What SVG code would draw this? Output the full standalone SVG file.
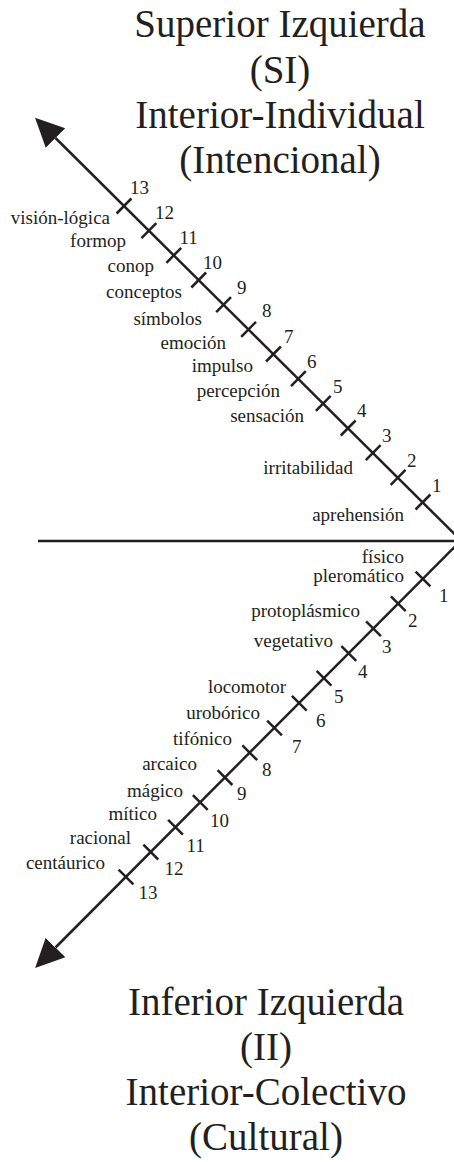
<svg xmlns="http://www.w3.org/2000/svg" xmlns:xlink="http://www.w3.org/1999/xlink" width="454" height="1162" viewBox="0 0 454 1162">
<style>
.ttl{font-family:"Liberation Serif","Times New Roman",serif;font-size:39px;fill:#231f20;text-anchor:middle}
.lbl{font-family:"Liberation Serif","Times New Roman",serif;font-size:19px;fill:#231f20;text-anchor:end}
.num{font-family:"Liberation Serif","Times New Roman",serif;font-size:19px;fill:#231f20;text-anchor:start}
.ax{stroke:#231f20;stroke-width:2.5;fill:none}
.tk{stroke:#231f20;stroke-width:2.5}
</style>
<defs>
<marker id="head" markerUnits="userSpaceOnUse" markerWidth="30" markerHeight="30" viewBox="0 -13 26 26" refX="0" refY="0" orient="auto">
<path d="M0,-12 L25,0 L0,12 Z" fill="#231f20"/>
</marker>
<line id="tu" class="tk" x1="-7.4" y1="7.5" x2="7.4" y2="-7.5"/>
<line id="tl" class="tk" x1="-7.4" y1="-7.4" x2="7.4" y2="7.4"/>
</defs>
<rect width="454" height="1162" fill="#ffffff"/>
<g id="title-top">
<text class="ttl" x="280" y="37">Superior Izquierda</text>
<text class="ttl" x="280" y="83">(SI)</text>
<text class="ttl" x="280" y="128">Interior-Individual</text>
<text class="ttl" x="280" y="173">(Intencional)</text>
</g>
<g id="title-bottom">
<text class="ttl" x="266" y="1015">Inferior Izquierda</text>
<text class="ttl" x="266" y="1060">(II)</text>
<text class="ttl" x="266" y="1105">Interior-Colectivo</text>
<text class="ttl" x="266" y="1150">(Cultural)</text>
</g>
<g id="connectors">
<line class="ax" x1="38" y1="541" x2="454" y2="541"/>
<line class="ax" x1="461" y1="540.5" x2="55.5" y2="138" marker-end="url(#head)"/>
<line class="ax" x1="461" y1="540.5" x2="55.5" y2="947.5" marker-end="url(#head)"/>
</g>
<g id="ticks-upper">
<use xlink:href="#tu" x="423" y="502"/>
<use xlink:href="#tu" x="398.1" y="477.3"/>
<use xlink:href="#tu" x="373.2" y="452.7"/>
<use xlink:href="#tu" x="348.2" y="428"/>
<use xlink:href="#tu" x="323.3" y="403.3"/>
<use xlink:href="#tu" x="298.4" y="378.7"/>
<use xlink:href="#tu" x="273.5" y="354"/>
<use xlink:href="#tu" x="248.6" y="329.3"/>
<use xlink:href="#tu" x="223.6" y="304.6"/>
<use xlink:href="#tu" x="198.7" y="280"/>
<use xlink:href="#tu" x="173.8" y="255.3"/>
<use xlink:href="#tu" x="148.9" y="230.6"/>
<use xlink:href="#tu" x="124" y="206"/>
</g>
<g id="ticks-lower">
<use xlink:href="#tl" x="423" y="579"/>
<use xlink:href="#tl" x="398.3" y="603.8"/>
<use xlink:href="#tl" x="373.5" y="628.7"/>
<use xlink:href="#tl" x="348.8" y="653.5"/>
<use xlink:href="#tl" x="324" y="678.3"/>
<use xlink:href="#tl" x="299.3" y="703.2"/>
<use xlink:href="#tl" x="274.5" y="728"/>
<use xlink:href="#tl" x="249.8" y="752.8"/>
<use xlink:href="#tl" x="225" y="777.6"/>
<use xlink:href="#tl" x="200.3" y="802.5"/>
<use xlink:href="#tl" x="175.5" y="827.3"/>
<use xlink:href="#tl" x="150.8" y="852.1"/>
<use xlink:href="#tl" x="126" y="877"/>
</g>
<g id="labels-upper">
<text class="lbl" x="110" y="224">visión-lógica</text>
<text class="lbl" x="126" y="247">formop</text>
<text class="lbl" x="154" y="272">conop</text>
<text class="lbl" x="182" y="298">conceptos</text>
<text class="lbl" x="202" y="325">símbolos</text>
<text class="lbl" x="226" y="349">emoción</text>
<text class="lbl" x="253" y="372">impulso</text>
<text class="lbl" x="280" y="397">percepción</text>
<text class="lbl" x="304" y="422">sensación</text>
<text class="lbl" x="353" y="474">irritabilidad</text>
<text class="lbl" x="404" y="521">aprehensión</text>
</g>
<g id="numbers-upper">
<text class="num" x="130" y="194">13</text>
<text class="num" x="155" y="219">12</text>
<text class="num" x="179.5" y="244">11</text>
<text class="num" x="203" y="269">10</text>
<text class="num" x="237" y="294">9</text>
<text class="num" x="262" y="317">8</text>
<text class="num" x="284" y="343">7</text>
<text class="num" x="307" y="368">6</text>
<text class="num" x="333" y="393">5</text>
<text class="num" x="357" y="417">4</text>
<text class="num" x="382" y="442">3</text>
<text class="num" x="407" y="467">2</text>
<text class="num" x="432" y="492">1</text>
</g>
<g id="labels-lower">
<text class="lbl" x="404" y="563">físico</text>
<text class="lbl" x="404" y="582">pleromático</text>
<text class="lbl" x="360" y="617">protoplásmico</text>
<text class="lbl" x="333" y="647">vegetativo</text>
<text class="lbl" x="286" y="693">locomotor</text>
<text class="lbl" x="260" y="719">urobórico</text>
<text class="lbl" x="232" y="745">tifónico</text>
<text class="lbl" x="197" y="770">arcaico</text>
<text class="lbl" x="183" y="797">mágico</text>
<text class="lbl" x="157" y="820">mítico</text>
<text class="lbl" x="131" y="844">racional</text>
<text class="lbl" x="105" y="869">centáurico</text>
</g>
<g id="numbers-lower">
<text class="num" x="439" y="602">1</text>
<text class="num" x="408" y="627">2</text>
<text class="num" x="382" y="653">3</text>
<text class="num" x="358" y="678">4</text>
<text class="num" x="334" y="703">5</text>
<text class="num" x="316" y="727">6</text>
<text class="num" x="292" y="753">7</text>
<text class="num" x="262" y="776">8</text>
<text class="num" x="237" y="800">9</text>
<text class="num" x="210" y="827">10</text>
<text class="num" x="186.5" y="852">11</text>
<text class="num" x="164.5" y="875">12</text>
<text class="num" x="138.5" y="899">13</text>
</g>
</svg>
